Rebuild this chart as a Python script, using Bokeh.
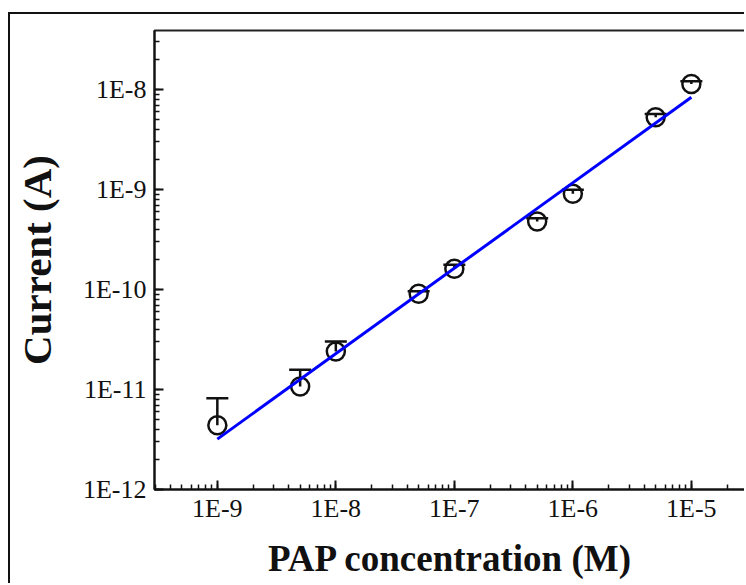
from bokeh.plotting import figure
from bokeh.models import ColumnDataSource, Whisker, TeeHead, CustomJSTickFormatter, LogTicker
from bokeh.embed import file_html
from bokeh.resources import INLINE

# data
conc = [1e-9, 5e-9, 1e-8, 5e-8, 1e-7, 5e-7, 1e-6, 5e-6, 1e-5]
current = [4.4e-12, 1.07e-11, 2.40e-11, 9.06e-11, 1.61e-10, 4.79e-10, 9.06e-10, 5.29e-9, 1.14e-8]
error = [3.8e-12, 5.1e-12, 6.2e-12, 5.6e-12, 1.6e-11, 3.7e-11, 8.7e-11, 4.2e-10, 7.0e-10]
fit_x = [1e-9, 1e-5]
fit_y = [3.19e-12, 8.38e-9]

x_ticks = [1e-9, 1e-8, 1e-7, 1e-6, 1e-5]
x_labels = ["1E-9", "1E-8", "1E-7", "1E-6", "1E-5"]
y_ticks = [1e-12, 1e-11, 1e-10, 1e-9, 1e-8]
y_labels = ["1E-12", "1E-11", "1E-10", "1E-9", "1E-8"]

upper = [c + e for c, e in zip(current, error)]
src = ColumnDataSource(dict(x=conc, y=current, upper=upper))

p = figure(width=736, height=571, x_axis_type="log", y_axis_type="log",
           x_range=(2.95e-10, 2.92e-5), y_range=(1e-12, 3.9e-8),
           output_backend="svg", toolbar_location=None,
           min_border_left=143, min_border_top=16, min_border_right=0, min_border_bottom=96)
p.styles = {"border-left": "2px solid #111", "border-top": "2px solid #111",
            "margin-left": "8px", "margin-top": "12px"}
p.xgrid.visible = False
p.ygrid.visible = False
p.outline_line_color = "#222"
p.outline_line_width = 2
p.background_fill_color = "white"
p.border_fill_color = "white"

fmt_code = """
const i = tvals.findIndex(t => Math.abs(Math.log10(t) - Math.log10(tick)) < 1e-6);
return i >= 0 ? tlabels[i] : "";
"""
p.xaxis.formatter = CustomJSTickFormatter(args=dict(tvals=x_ticks, tlabels=x_labels), code=fmt_code)
p.yaxis.formatter = CustomJSTickFormatter(args=dict(tvals=y_ticks, tlabels=y_labels), code=fmt_code)
p.xaxis.ticker = LogTicker(desired_num_ticks=6, num_minor_ticks=10)
p.yaxis.ticker = LogTicker(desired_num_ticks=6, num_minor_ticks=10)

for ax in (p.xaxis, p.yaxis):
    ax.axis_line_width = 2
    ax.axis_line_color = "#111"
    ax.major_tick_in = 9
    ax.major_tick_out = 0
    ax.minor_tick_in = 5
    ax.minor_tick_out = 0
    ax.major_tick_line_width = 2
    ax.minor_tick_line_width = 1.5
    ax.major_tick_line_color = "#111"
    ax.minor_tick_line_color = "#111"
    ax.major_label_text_font = "Liberation Serif"
    ax.major_label_text_font_size = "26px"
    ax.major_label_text_color = "#111"
    ax.axis_label_text_font = "Liberation Serif"
    ax.axis_label_text_font_style = "bold"
    ax.axis_label_text_color = "#111"

p.xaxis.axis_label = "PAP concentration (M)"
p.yaxis.axis_label = "Current (A)"
p.xaxis.axis_label_text_font_size = "37px"
p.yaxis.axis_label_text_font_size = "41px"
p.xaxis.major_label_standoff = 4
p.yaxis.major_label_standoff = 8
p.xaxis.axis_label_standoff = 12
p.yaxis.axis_label_standoff = 20

w = Whisker(source=src, base="x", upper="upper", lower="y", dimension="height",
            line_color="#111", line_width=2.5,
            upper_head=TeeHead(size=22, line_color="#111", line_width=2.5), lower_head=None)
p.add_layout(w)

p.scatter("x", "y", source=src, marker="circle", size=18, fill_color=None,
          line_color="#111", line_width=2.5)
p.line(fit_x, fit_y, line_color="#0000ff", line_width=3)

open("out.html", "w").write(file_html(p, INLINE))
